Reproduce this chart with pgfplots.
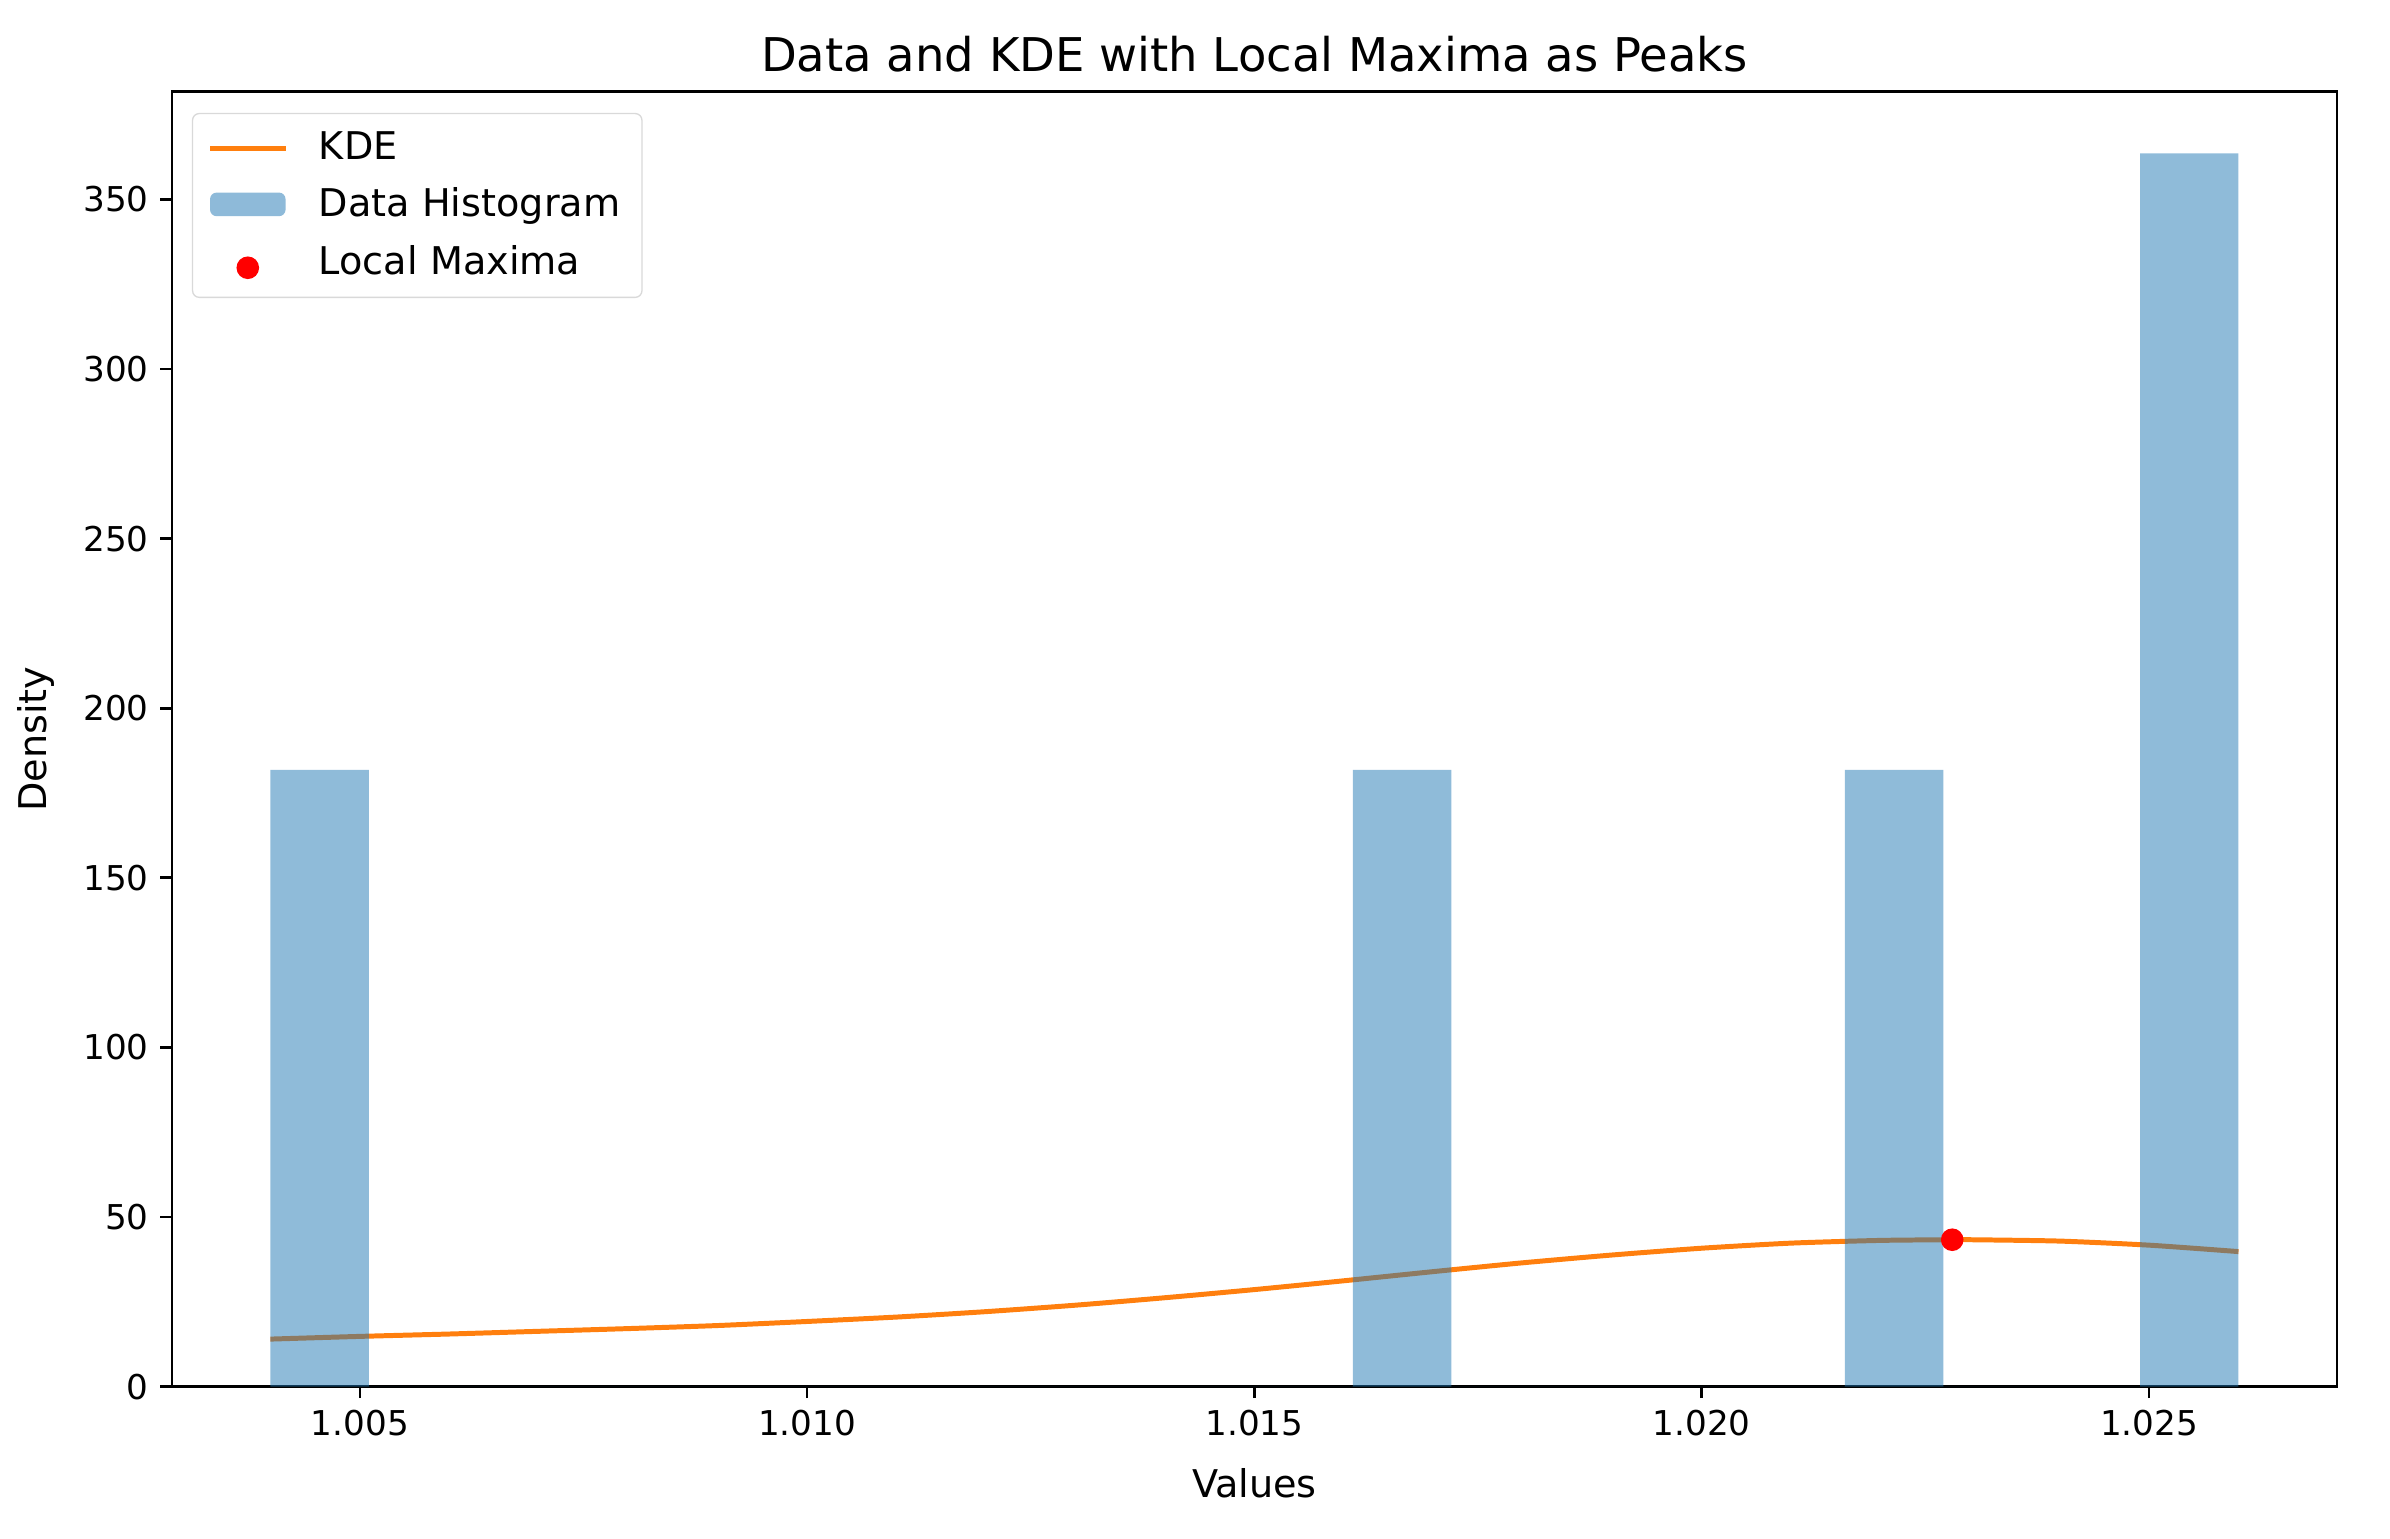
\documentclass[border=0pt]{standalone}
\usepackage{fontspec}
\setmainfont{DejaVu Sans}
\usepackage{pgfplots}
\pgfplotsset{compat=1.18}
\definecolor{mplblue}{HTML}{1F77B4}
\definecolor{mplorange}{HTML}{FF7F0E}
\begin{document}
\begin{tikzpicture}
\path[use as bounding box] (-51.8pt,-45.8pt) rectangle (668pt,417.6pt);
\begin{axis}[
  at={(0,0)}, anchor=south west,
  scale only axis, width=652pt, height=390pt,
  xmin=1.0029, xmax=1.0271, ymin=0, ymax=381.8,
  axis line style={black, line width=0.8pt},
  tick pos=left, tick align=outside,
  major tick length=3.5pt,
  every tick/.style={black, line width=0.8pt},
  xtick={1.005,1.010,1.015,1.020,1.025},
  ytick={0,50,100,150,200,250,300,350},
  scaled x ticks=false,
  xticklabel style={/pgf/number format/.cd, fixed, fixed zerofill, precision=3},
  /pgf/number format/assume math mode=true,
  ticklabel style={font=\fontsize{10.3}{12}\selectfont},
  xlabel={Values}, ylabel={Density},
  label style={font=\fontsize{11.5}{13}\selectfont},
  xlabel style={at={(0.5,0)}, anchor=north, yshift=-21pt},
  ylabel style={at={(0,0.5)}, anchor=south, yshift=32pt},
  title={Data and KDE with Local Maxima as Peaks},
  title style={font=\fontsize{14}{16}\selectfont, at={(0.5,1)}, anchor=base, yshift=0pt},
  legend cell align=left,
  legend style={at={(0,1)}, anchor=north west, xshift=6pt, yshift=-6.4pt,
    draw=black!15, rounded corners=2pt, font=\fontsize{11.5}{13}\selectfont,
    inner xsep=4.5pt, inner ysep=3.5pt, row sep=3pt,
    /tikz/every even column/.append style={column sep=4pt}},
]
\addplot[mplorange, line width=1.5pt, smooth, tension=0.4,
  legend image code/.code={\draw[mplorange, line width=1.5pt] (0cm,0cm) -- (0.8cm,0cm); \path (0.8cm+7.3pt,0cm);}]
  coordinates {
  (1.004,14.0) (1.005,14.8) (1.006,15.5) (1.007,16.3) (1.008,17.1) (1.009,18.0)
  (1.010,19.2) (1.011,20.5) (1.012,22.1) (1.013,24.0) (1.014,26.2) (1.015,28.6)
  (1.016,31.2) (1.017,33.9) (1.018,36.5) (1.019,38.8) (1.020,40.8) (1.021,42.3)
  (1.022,43.1) (1.0228,43.3) (1.023,43.3) (1.024,42.9) (1.025,41.7) (1.026,39.8)
  };
\addlegendentry{KDE}
\addplot[ybar interval, fill=mplblue, fill opacity=0.5, draw=none,
  legend image code/.code={\fill[mplblue, fill opacity=0.5] (0cm,-0.12cm) rectangle (0.8cm,0.13cm); \path (0.8cm+7.3pt,0cm);}]
  coordinates {
  (1.0040,181.8) (1.0051,0) (1.0062,0) (1.0073,0) (1.0084,0) (1.0095,0)
  (1.0106,0) (1.0117,0) (1.0128,0) (1.0139,0) (1.0150,0) (1.0161,181.8)
  (1.0172,0) (1.0183,0) (1.0194,0) (1.0205,0) (1.0216,181.8) (1.0227,0)
  (1.0238,0) (1.0249,363.6) (1.0260,0)
  };
\addlegendentry{Data Histogram}
\addplot[only marks, mark=*, mark size=3.2pt, color=red, fill=red,
  legend image code/.code={\fill[red] (0.4cm,-0.06cm) circle (3.2pt); \path (0cm,0cm) (0.8cm+7.3pt,0cm);}]
  coordinates {(1.0228,43.3)};
\addlegendentry{Local Maxima}
\end{axis}
\end{tikzpicture}
\end{document}
